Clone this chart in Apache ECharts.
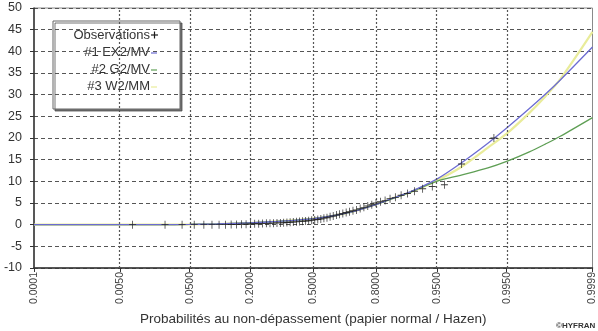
<!DOCTYPE html>
<html>
<head>
<meta charset="utf-8">
<script src="https://cdn.jsdelivr.net/npm/echarts@6/dist/echarts.min.js"></script>
<style>
  html, body { margin: 0; padding: 0; background: #fff; }
  #chart { width: 598px; height: 331px; }
</style>
</head>
<body>
<div id="chart"></div>
<script>
// Probability ticks shown on the normal-probability axis
const tickProbs = [0.0001, 0.005, 0.05, 0.2, 0.5, 0.8, 0.95, 0.995, 0.9999];
const tickLabels = ['0.0001', '0.0050', '0.0500', '0.2000', '0.5000', '0.8000', '0.9500', '0.9950', '0.9999'];

// Observed sample, sorted ascending (plotted at Hazen positions)
const observations = [
  0, 0, 0, 0, 0, 0, 0, 0,
  0.05, 0.05, 0.1, 0.1,
  0.15, 0.2, 0.2, 0.25, 0.3, 0.3,
  0.35, 0.4, 0.4, 0.45, 0.5, 0.55,
  0.6, 0.65, 0.7, 0.8, 0.85, 0.9,
  1.0, 1.1, 1.2, 1.3, 1.5, 1.6,
  1.8, 2.0, 2.2, 2.4, 2.6, 2.8,
  3.0, 3.2, 3.4, 3.7, 4.0, 4.3,
  4.6, 5.0, 5.3, 5.6, 6.0, 6.3,
  6.8, 7.2, 7.7, 8.3, 8.8, 9.2,
  14.0, 20.0
];

// Fitted distributions: quantiles at the following non-exceedance probabilities
const curveProbs = [0.0001, 0.001, 0.005, 0.02, 0.05, 0.1, 0.2, 0.3, 0.4, 0.5, 0.6, 0.7, 0.8, 0.85, 0.9, 0.95, 0.975, 0.99, 0.995, 0.998, 0.999, 0.9995, 0.9999];
const fitEX2 = [0, 0, 0, 0, 0.05, 0.15, 0.4, 0.7, 1.0, 1.4, 2.0, 3.0, 4.7, 6.0, 7.5, 10.5, 14.1, 18.8, 22.3, 26.8, 30.1, 33.4, 41.0];
const fitG2  = [0, 0, 0, 0, 0.05, 0.15, 0.4, 0.7, 1.0, 1.4, 2.0, 3.0, 4.7, 5.9, 7.4, 10.0, 11.4, 13.1, 14.6, 16.8, 18.6, 20.4, 24.7];
const fitW2  = [0, 0, 0, 0, 0.05, 0.15, 0.4, 0.7, 1.0, 1.4, 2.0, 3.0, 4.7, 6.0, 7.4, 10.2, 13.2, 17.8, 21.0, 25.8, 29.6, 33.6, 44.5];

const seriesNames = ['Observations', '#1 EX2/MV', '#2 G2/MV', '#3 W2/MM'];
const yTicks = { min: -10, max: 50, step: 5 };

// Inverse standard normal CDF (Acklam's rational approximation)
function probit(p) {
  const a = [-3.969683028665376e+01, 2.209460984245205e+02, -2.759285104469687e+02, 1.383577518672690e+02, -3.066479806614716e+01, 2.506628277459239e+00];
  const b = [-5.447609879822406e+01, 1.615858368580409e+02, -1.556989798598866e+02, 6.680131188771972e+01, -1.328068155288572e+01];
  const c = [-7.784894002430293e-03, -3.223964580411365e-01, -2.400758277161838e+00, -2.549671666084143e+00, 4.374664141464968e+00, 2.938163982698783e+00];
  const d = [7.784695709041462e-03, 3.224671290700398e-01, 2.445134137142996e+00, 3.754408661907416e+00];
  const pl = 0.02425, ph = 1 - pl;
  let q, r;
  if (p < pl) {
    q = Math.sqrt(-2 * Math.log(p));
    return (((((c[0]*q+c[1])*q+c[2])*q+c[3])*q+c[4])*q+c[5]) / ((((d[0]*q+d[1])*q+d[2])*q+d[3])*q+1);
  }
  if (p <= ph) {
    q = p - 0.5; r = q * q;
    return (((((a[0]*r+a[1])*r+a[2])*r+a[3])*r+a[4])*r+a[5])*q / (((((b[0]*r+b[1])*r+b[2])*r+b[3])*r+b[4])*r+1);
  }
  q = Math.sqrt(-2 * Math.log(1 - p));
  return -(((((c[0]*q+c[1])*q+c[2])*q+c[3])*q+c[4])*q+c[5]) / ((((d[0]*q+d[1])*q+d[2])*q+d[3])*q+1);
}

const tickZ = tickProbs.map(probit);
const zMin = tickZ[0], zMax = tickZ[tickZ.length - 1];
const n = observations.length;
const obsData = observations.map((v, i) => [probit((i + 0.5) / n), v]);
const curve = vals => curveProbs.map((p, i) => [probit(p), vals[i]]);

function labelFor(z) {
  let best = 0;
  tickZ.forEach((t, i) => { if (Math.abs(t - z) < Math.abs(tickZ[best] - z)) best = i; });
  return tickLabels[best];
}

const plusSymbol = 'path://M-0.11,-1H0.11V-0.11H1V0.11H0.11V1H-0.11V0.11H-1V-0.11H-0.11Z';
const colors = { obs: '#1a1a1a', ex2: '#6c6cd2', g2: '#5f9f55', w2: '#e9ec9a' };
const font = '"Liberation Sans", Arial, sans-serif';

const chart = echarts.init(document.getElementById('chart'), null, { renderer: 'canvas' });

// Legend panel (right-aligned entries followed by their line/marker sample)
const legendX = 53, legendY = 21, legendW = 127, legendH = 88;
const legendTextRight = 150;
const legendRows = [35, 52, 69, 86];
const legendSwatch = [colors.obs, colors.ex2, colors.g2, colors.w2];
const legendChildren = [{
  type: 'rect',
  shape: { x: legendX, y: legendY, width: legendW, height: legendH },
  style: { fill: '#fff', stroke: '#666', lineWidth: 1, shadowColor: 'rgba(70,70,70,0.75)', shadowOffsetX: 2, shadowOffsetY: 2, shadowBlur: 0 }
}];
seriesNames.forEach((name, i) => {
  legendChildren.push({
    type: 'text',
    style: { x: legendTextRight, y: legendRows[i], text: name, fill: '#333', font: '13px ' + font, align: 'right', verticalAlign: 'middle' }
  });
  if (i === 0) {
    legendChildren.push({ type: 'line', shape: { x1: legendTextRight + 1, y1: legendRows[i], x2: legendTextRight + 8, y2: legendRows[i] }, style: { stroke: legendSwatch[i], lineWidth: 1.2 } });
    legendChildren.push({ type: 'line', shape: { x1: legendTextRight + 4.5, y1: legendRows[i] - 3.5, x2: legendTextRight + 4.5, y2: legendRows[i] + 3.5 }, style: { stroke: legendSwatch[i], lineWidth: 1.2 } });
  } else {
    legendChildren.push({ type: 'line', shape: { x1: legendTextRight + 1, y1: legendRows[i] + 1, x2: legendTextRight + 7, y2: legendRows[i] + 1 }, style: { stroke: legendSwatch[i], lineWidth: 1.2 } });
  }
});

const option = {
  animation: false,
  backgroundColor: '#fff',
  grid: { left: 34, right: 2, top: 8, bottom: 62, show: true, borderColor: '#8a8a8a', borderWidth: 1, backgroundColor: 'transparent' },
  xAxis: {
    type: 'value',
    min: zMin,
    max: zMax,
    name: 'Probabilités au non-dépassement (papier normal / Hazen)',
    nameLocation: 'middle',
    nameGap: 43,
    nameTextStyle: { color: '#333', fontSize: 13.5, fontFamily: font, verticalAlign: 'top' },
    axisLine: { show: true, onZero: false, lineStyle: { color: '#333', width: 1.5 } },
    axisTick: { show: true, length: 4, customValues: tickZ, lineStyle: { color: '#333' } },
    axisLabel: {
      show: true,
      customValues: tickZ,
      rotate: 90,
      margin: 4,
      color: '#444',
      fontSize: 10.5,
      fontFamily: font,
      formatter: v => labelFor(v)
    },
    splitLine: { show: false }
  },
  yAxis: {
    type: 'value',
    min: yTicks.min,
    max: yTicks.max,
    interval: yTicks.step,
    axisLine: { show: true, onZero: false, lineStyle: { color: '#333', width: 1.5 } },
    axisTick: { show: true, length: 4, lineStyle: { color: '#333' } },
    axisLabel: { color: '#333', fontSize: 12.5, margin: 12, fontFamily: font },
    splitLine: { show: true, lineStyle: { color: '#555', width: 1, type: [4, 3] } }
  },
  graphic: [
    { type: 'group', children: legendChildren, z: 100 },
    {
      type: 'text', left: 556, top: 322, z: 100,
      style: { text: '©HYFRAN', fill: '#333', font: 'bold 8px ' + font }
    }
  ],
  series: [
    {
      name: seriesNames[3], type: 'line', data: curve(fitW2), smooth: 0.3, showSymbol: false,
      lineStyle: { color: colors.w2, width: 2.2 }, z: 2,
      // dotted vertical grid at each probability tick
      markLine: {
        silent: true,
        symbol: ['none', 'none'],
        label: { show: false },
        lineStyle: { color: '#555', width: 1.2, type: [2, 2] },
        data: tickZ.slice(1, -1).map(z => ({ xAxis: z }))
      }
    },
    {
      name: seriesNames[2], type: 'line', data: curve(fitG2), smooth: 0.3, showSymbol: false,
      lineStyle: { color: colors.g2, width: 1.3 }, z: 3
    },
    {
      name: seriesNames[1], type: 'line', data: curve(fitEX2), smooth: 0.3, showSymbol: false,
      lineStyle: { color: colors.ex2, width: 1.3 }, z: 4
    },
    {
      name: seriesNames[0], type: 'scatter', data: obsData,
      symbol: plusSymbol, symbolSize: [7, 8],
      itemStyle: { color: colors.obs, opacity: 0.85 }, z: 5
    }
  ]
};

chart.setOption(option);
</script>
</body>
</html>
